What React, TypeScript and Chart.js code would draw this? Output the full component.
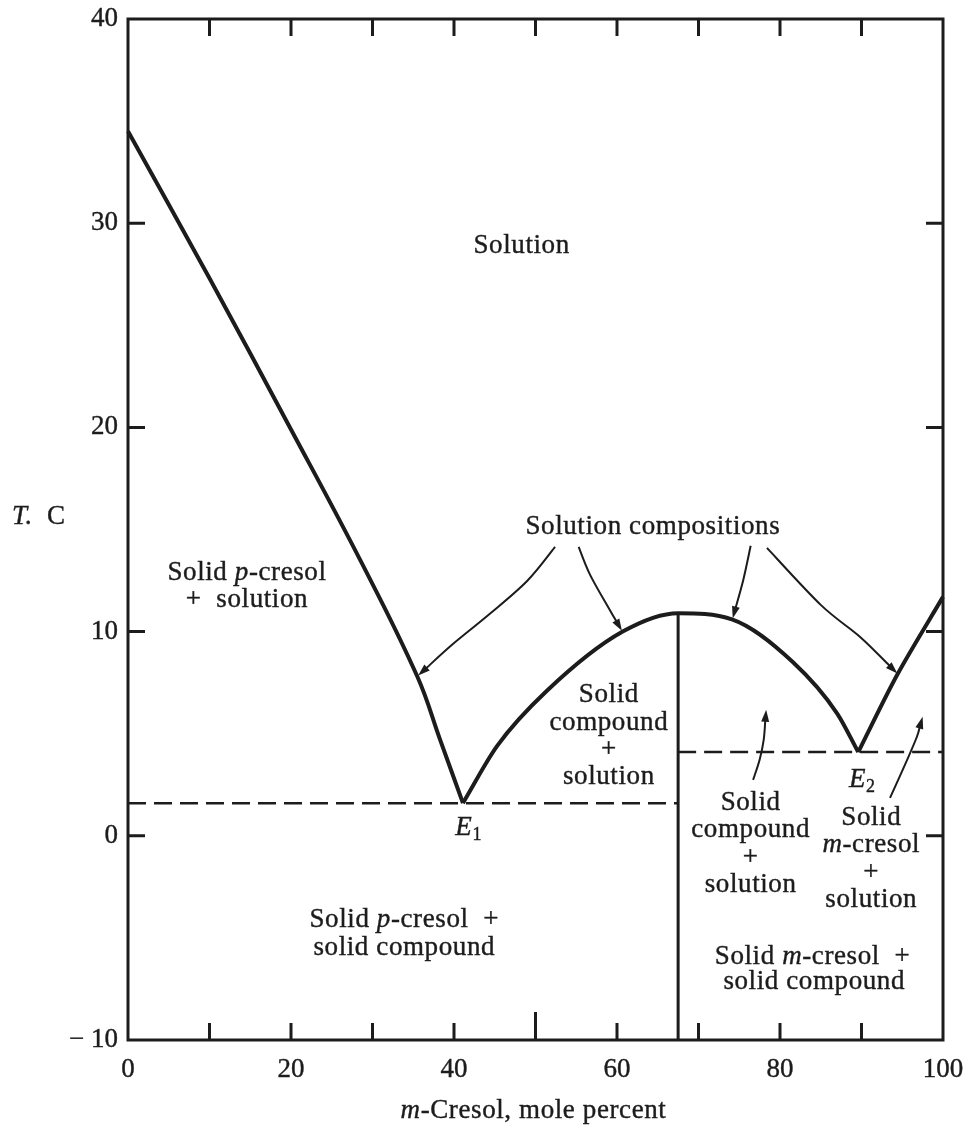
import React, { useEffect, useRef } from "react";
import { Chart, registerables } from "chart.js";
Chart.register(...registerables);

const INK = "#1c1c1c";
const FAMILY = "'Liberation Serif', 'DejaVu Serif', serif";

// Axis ranges and ticks
const X_MIN = 0;
const X_MAX = 100;
const Y_MIN = -10;
const Y_MAX = 40;
const xLabelStep = 20;
const yLabelStep = 10;
const xInnerTicks = [10, 20, 30, 40, 50, 60, 70, 80, 90];
const yInnerTicks = [0, 10, 20, 30];

// Phase-diagram curves (x: m-cresol mole percent, T: deg C)
const pCresolLiquidusX = [0, 10, 20, 28.5, 35.5, 38.3, 41.1];
const pCresolLiquidusT = [34.5, 27.3, 19.9, 13.5, 7.8, 4.7, 1.6];
const compoundLiquidusX = [41.1, 45.3, 51.4, 60.7, 67.5, 74.1, 81.6, 87.0, 89.6];
const compoundLiquidusT = [1.6, 4.4, 7.1, 10.0, 10.9, 10.6, 8.5, 6.0, 4.1];
const mCresolLiquidusX = [89.6, 94.4, 100];
const mCresolLiquidusT = [4.1, 7.9, 11.7];
const compoundComposition = 67.5;
const compoundMeltingT = 10.9;
const eutectic1T = 1.6;
const eutectic2T = 4.1;

// Annotation arrows (data coordinates, tip is the last point)
const arrowA_X = [52.4, 49.0, 44.4, 39.9, 35.6];
const arrowA_T = [14.15, 12.49, 10.87, 9.4, 7.85];
const arrowB_X = [55.3, 56.7, 59.1, 60.6];
const arrowB_T = [14.15, 12.78, 11.07, 10.04];
const arrowC_X = [76.4, 75.5, 74.2];
const arrowC_T = [14.2, 12.54, 10.65];
const arrowD_X = [78.4, 85.0, 89.8, 94.4];
const arrowD_T = [14.1, 11.31, 9.75, 7.95];
const arrowE_X = [76.7, 77.5, 78.0, 78.3];
const arrowE_T = [2.74, 3.72, 4.7, 6.17];
const arrowF_X = [93.5, 95.6, 96.8, 97.5];
const arrowF_T = [1.86, 3.72, 4.85, 5.83];

type Part = { t: string; i?: boolean; sub?: boolean };
type Label = { x: number; y: number; parts: Part[] };

const labels: Label[] = [
  { x: 48.3, y: 28.9, parts: [{ t: "Solution" }] },
  { x: 14.6, y: 12.88, parts: [{ t: "Solid " }, { t: "p", i: true }, { t: "-cresol" }] },
  { x: 14.6, y: 11.56, parts: [{ t: "+  solution" }] },
  { x: 64.4, y: 15.13, parts: [{ t: "Solution compositions" }] },
  { x: 59.0, y: 6.9, parts: [{ t: "Solid" }] },
  { x: 59.0, y: 5.53, parts: [{ t: "compound" }] },
  { x: 59.0, y: 4.21, parts: [{ t: "+" }] },
  { x: 59.0, y: 2.89, parts: [{ t: "solution" }] },
  { x: 41.8, y: 0.39, parts: [{ t: "E", i: true }, { t: "1", sub: true }] },
  { x: 76.4, y: 1.62, parts: [{ t: "Solid" }] },
  { x: 76.4, y: 0.29, parts: [{ t: "compound" }] },
  { x: 76.4, y: -1.08, parts: [{ t: "+" }] },
  { x: 76.4, y: -2.4, parts: [{ t: "solution" }] },
  { x: 90.1, y: 2.74, parts: [{ t: "E", i: true }, { t: "2", sub: true }] },
  { x: 91.2, y: 0.88, parts: [{ t: "Solid" }] },
  { x: 91.2, y: -0.44, parts: [{ t: "m", i: true }, { t: "-cresol" }] },
  { x: 91.2, y: -1.81, parts: [{ t: "+" }] },
  { x: 91.2, y: -3.13, parts: [{ t: "solution" }] },
  { x: 33.9, y: -4.11, parts: [{ t: "Solid " }, { t: "p", i: true }, { t: "-cresol  +" }] },
  { x: 33.9, y: -5.48, parts: [{ t: "solid compound" }] },
  { x: 84.0, y: -5.93, parts: [{ t: "Solid " }, { t: "m", i: true }, { t: "-cresol  +" }] },
  { x: 84.2, y: -7.15, parts: [{ t: "solid compound" }] },
];

const FONT_SIZE = 27;
const TEXT_STROKE = 0.4;

function fontFor(p: Part, size: number) {
  const s = p.sub ? Math.round(size * 0.66) : size;
  return `${p.i ? "italic " : ""}${s}px ${FAMILY}`;
}

function drawRich(ctx: CanvasRenderingContext2D, parts: Part[], cx: number, cy: number, size: number, align: "center" | "left" = "center") {
  const widths = parts.map((p) => {
    ctx.font = fontFor(p, size);
    return ctx.measureText(p.t).width;
  });
  const total = widths.reduce((a, b) => a + b, 0);
  let xx = align === "center" ? cx - total / 2 : cx;
  parts.forEach((p, i) => {
    ctx.font = fontFor(p, size);
    const yy = cy + (p.sub ? 7 : 0);
    ctx.fillText(p.t, xx, yy);
    ctx.strokeText(p.t, xx, yy);
    xx += widths[i];
  });
}

function smoothPath(ctx: CanvasRenderingContext2D, pts: { x: number; y: number }[]) {
  ctx.moveTo(pts[0].x, pts[0].y);
  for (let i = 0; i < pts.length - 1; i++) {
    const p0 = pts[Math.max(0, i - 1)];
    const p1 = pts[i];
    const p2 = pts[i + 1];
    const p3 = pts[Math.min(pts.length - 1, i + 2)];
    const c1x = p1.x + (p2.x - p0.x) / 6;
    const c1y = p1.y + (p2.y - p0.y) / 6;
    const c2x = p2.x - (p3.x - p1.x) / 6;
    const c2y = p2.y - (p3.y - p1.y) / 6;
    ctx.bezierCurveTo(c1x, c1y, c2x, c2y, p2.x, p2.y);
  }
}

const arrows = [
  [arrowA_X, arrowA_T],
  [arrowB_X, arrowB_T],
  [arrowC_X, arrowC_T],
  [arrowD_X, arrowD_T],
  [arrowE_X, arrowE_T],
  [arrowF_X, arrowF_T],
];

const overlayPlugin = {
  id: "phaseOverlay",
  afterDatasetsDraw(chart: any) {
    const { ctx, chartArea: a, scales } = chart;
    const xs = scales.x;
    const ys = scales.y;
    ctx.save();
    ctx.strokeStyle = INK;
    ctx.fillStyle = INK;
    ctx.lineCap = "butt";

    // frame
    ctx.lineWidth = 3;
    ctx.strokeRect(a.left, a.top, a.right - a.left, a.bottom - a.top);

    // inward ticks
    ctx.beginPath();
    for (const v of xInnerTicks) {
      const px = xs.getPixelForValue(v);
      const len = v === 50 ? 28 : 17;
      ctx.moveTo(px, a.bottom);
      ctx.lineTo(px, a.bottom - len);
      ctx.moveTo(px, a.top);
      ctx.lineTo(px, a.top + 17);
    }
    for (const v of yInnerTicks) {
      const py = ys.getPixelForValue(v);
      ctx.moveTo(a.left, py);
      ctx.lineTo(a.left + 17, py);
      ctx.moveTo(a.right, py);
      ctx.lineTo(a.right - 17, py);
    }
    ctx.stroke();

    // arrows
    ctx.lineWidth = 2;
    for (const [ax, at] of arrows) {
      const pts = ax.map((v: number, i: number) => ({ x: xs.getPixelForValue(v), y: ys.getPixelForValue(at[i]) }));
      const n = pts.length;
      const tip = pts[n - 1];
      const prev = pts[n - 2];
      const ang = Math.atan2(tip.y - prev.y, tip.x - prev.x);
      const headLen = 12;
      const headW = 4;
      const bx = tip.x - headLen * Math.cos(ang);
      const by = tip.y - headLen * Math.sin(ang);
      const linePts = pts.slice(0, n - 1).concat([{ x: bx + 2 * Math.cos(ang), y: by + 2 * Math.sin(ang) }]);
      ctx.beginPath();
      smoothPath(ctx, linePts);
      ctx.stroke();
      ctx.beginPath();
      ctx.moveTo(tip.x, tip.y);
      ctx.lineTo(bx + headW * Math.sin(ang), by - headW * Math.cos(ang));
      ctx.lineTo(bx - headW * Math.sin(ang), by + headW * Math.cos(ang));
      ctx.closePath();
      ctx.fill();
    }

    // region labels
    ctx.textBaseline = "middle";
    ctx.textAlign = "left";
    ctx.lineWidth = TEXT_STROKE;
    (ctx as any).letterSpacing = "0.6px";
    for (const l of labels) {
      drawRich(ctx, l.parts, xs.getPixelForValue(l.x), ys.getPixelForValue(l.y), FONT_SIZE);
    }

    // axis titles
    const midX = (a.left + a.right) / 2;
    drawRich(ctx, [{ t: "m", i: true }, { t: "-Cresol, mole percent" }], midX - 2, a.bottom + 71, FONT_SIZE);
    drawRich(ctx, [{ t: "T.", i: true }], 12, ys.getPixelForValue(15.6), FONT_SIZE, "left");
    drawRich(ctx, [{ t: "C" }], 47, ys.getPixelForValue(15.6), FONT_SIZE, "left");
    ctx.restore();
  },
};

function pts(xs: number[], ts: number[]) {
  return xs.map((v, i) => ({ x: v, y: ts[i] }));
}

export default function App() {
  const ref = useRef<HTMLCanvasElement>(null);
  useEffect(() => {
    const canvas = ref.current!;
    const curve = (data: any[], extra: any = {}) => ({
      data,
      showLine: true,
      borderColor: INK,
      backgroundColor: INK,
      borderWidth: 4,
      pointRadius: 0,
      tension: 0,
      fill: false,
      clip: false,
      ...extra,
    });
    const chart = new Chart(canvas, {
      type: "scatter",
      data: {
        datasets: [
          curve([{ x: X_MIN, y: eutectic1T }, { x: compoundComposition, y: eutectic1T }], { borderWidth: 2.5, borderDash: [18, 8] }),
          curve([{ x: compoundComposition, y: eutectic2T }, { x: X_MAX, y: eutectic2T }], { borderWidth: 2.5, borderDash: [18, 8] }),
          curve([{ x: compoundComposition, y: Y_MIN }, { x: compoundComposition, y: compoundMeltingT }], { borderWidth: 3 }),
          curve(pts(pCresolLiquidusX, pCresolLiquidusT), { tension: 0.4 }),
          curve(pts(compoundLiquidusX, compoundLiquidusT), { cubicInterpolationMode: "monotone" }),
          curve(pts(mCresolLiquidusX, mCresolLiquidusT), { tension: 0.3 }),
        ],
      },
      options: {
        responsive: false,
        animation: false,
        devicePixelRatio: 1,
        layout: { padding: { top: 19, right: 20, left: 0, bottom: 0 } },
        plugins: { legend: { display: false }, tooltip: { enabled: false } },
        scales: {
          x: {
            type: "linear",
            min: X_MIN,
            max: X_MAX,
            grid: { display: false, drawTicks: false },
            border: { display: false },
            ticks: {
              stepSize: xLabelStep,
              autoSkip: false,
              maxRotation: 0,
              color: INK,
              padding: 14,
              textStrokeColor: INK,
              textStrokeWidth: TEXT_STROKE,
              font: { family: FAMILY, size: FONT_SIZE },
            },
            afterFit: (s: any) => {
              s.height = 88;
              s.paddingLeft = 0;
              s.paddingRight = 0;
            },
          },
          y: {
            type: "linear",
            min: Y_MIN,
            max: Y_MAX,
            grid: { display: false, drawTicks: false },
            border: { display: false },
            ticks: {
              stepSize: yLabelStep,
              color: INK,
              padding: 10,
              textStrokeColor: INK,
              textStrokeWidth: TEXT_STROKE,
              font: { family: FAMILY, size: FONT_SIZE },
              callback: (v: any) => (Number(v) < 0 ? "\u2212 " + Math.abs(Number(v)) : String(v)),
            },
            afterFit: (s: any) => {
              s.width = 128;
              s.paddingTop = 0;
              s.paddingBottom = 0;
            },
          },
        },
      } as any,
      plugins: [overlayPlugin],
    });
    return () => chart.destroy();
  }, []);
  return (
    <canvas
      ref={ref}
      width={963}
      height={1128}
      style={{ position: "fixed", left: 0, top: 0, width: 963, height: 1128, background: "#fff" }}
    />
  );
}
